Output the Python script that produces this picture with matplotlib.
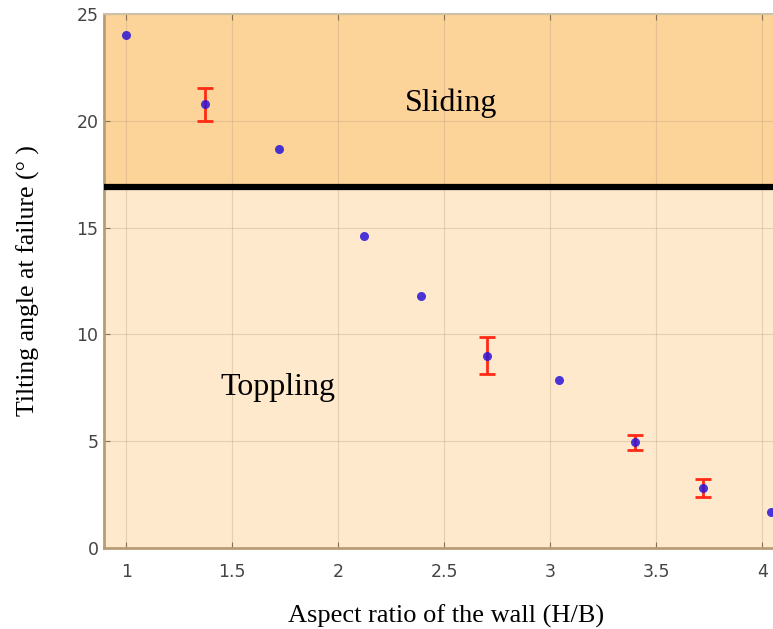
import matplotlib
matplotlib.use('Agg')
import matplotlib.pyplot as plt

# data
ratio = [1.00, 1.37, 1.72, 2.12, 2.39, 2.70, 3.04, 3.40, 3.72, 4.04]
angle = [24.0, 20.8, 18.7, 14.6, 11.8, 9.0, 7.85, 4.95, 2.8, 1.7]

err_ratio = [1.37, 2.70, 3.40, 3.72]
err_angle = [20.8, 9.0, 4.95, 2.8]
err_low = [0.8, 0.85, 0.37, 0.42]
err_high = [0.75, 0.88, 0.35, 0.42]

limit_angle = 16.9

fig = plt.figure(figsize=(7.73, 6.29), dpi=100)
ax = fig.add_axes([0.1345, 0.1288, 0.8655, 0.8489])
ax.set_xlim(0.895, 4.05)
ax.set_ylim(0, 25)

# shaded zones
ax.axhspan(limit_angle, 25, color='#fcd398', zorder=0, lw=0)
ax.axhspan(0, limit_angle, color='#fee9cc', zorder=0, lw=0)
ax.axhline(limit_angle, color='black', lw=4.5, zorder=3)

ax.grid(True, color='#b8a080', alpha=0.35, lw=0.8, zorder=1)
ax.set_axisbelow(True)

ax.errorbar(err_ratio, err_angle, yerr=[err_low, err_high], fmt='none',
            ecolor='#ff2a14', elinewidth=2, capsize=6, capthick=2, zorder=4)
ax.plot(ratio, angle, 'o', color='#2a14d8', alpha=0.85, ms=6.5, mec='none', zorder=5)

ax.text(2.53, 20.8, 'Sliding', fontsize=23, family='Liberation Serif',
        ha='center', va='center', zorder=6)
ax.text(1.717, 7.5, 'Toppling', fontsize=23, family='Liberation Serif',
        ha='center', va='center', zorder=6)

ax.set_xticks([1, 1.5, 2, 2.5, 3, 3.5, 4])
ax.set_xticklabels(['1', '1.5', '2', '2.5', '3', '3.5', '4'])
ax.set_yticks([0, 5, 10, 15, 20, 25])
ax.tick_params(direction='in', length=4, color='#8a7050', labelcolor='#444444',
               labelsize=12.5, top=True)
ax.tick_params(axis='x', pad=11)
ax.tick_params(axis='y', pad=4)

for s in ['left', 'bottom']:
    ax.spines[s].set_color('#b89c78')
    ax.spines[s].set_linewidth(2)
ax.spines['top'].set_color('#cfc0a8')
ax.spines['top'].set_linewidth(1.5)
ax.spines['right'].set_visible(False)

ax.set_xlabel('Aspect ratio of the wall (H/B)', fontsize=19,
              family='Liberation Serif')
ax.xaxis.set_label_coords(0.512, -0.106)
ax.set_ylabel('Tilting angle at failure (° )', fontsize=18.5,
              family='Liberation Serif')
ax.yaxis.set_label_coords(-0.1345 + 26 / 669.0, 0.5)

fig.savefig('out.png', dpi=100)
